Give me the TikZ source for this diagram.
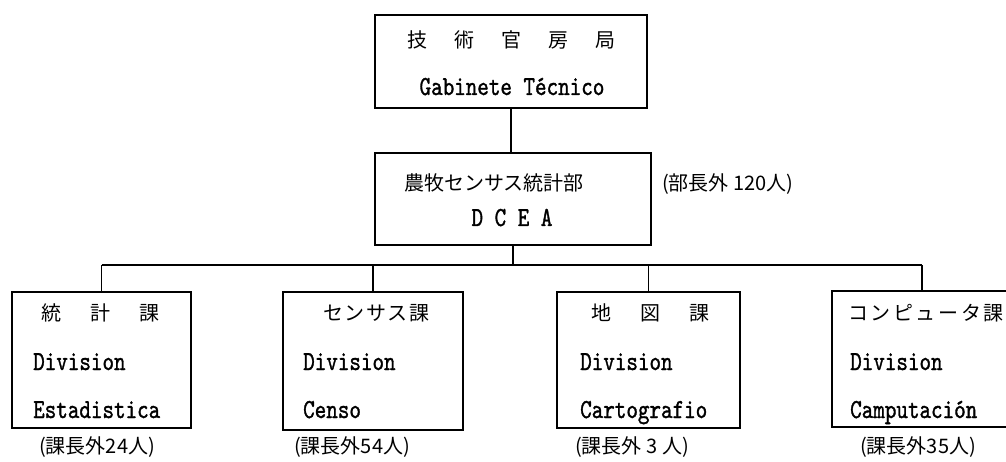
\documentclass[tikz,border=0pt]{standalone}
\usepackage{fontspec}
\newfontfamily\jp{Noto Sans CJK JP}
\newfontfamily\lat[FakeStretch=0.8,FakeBold=1.2]{lmmono10-regular.otf}
\tikzset{
  box/.style={draw, line width=1.3pt, inner sep=0pt},
  jt/.style={font=\jp\fontsize{20}{24}\selectfont, inner sep=0pt},
  lt/.style={font=\lat\fontsize{27.5}{30}\selectfont, inner sep=0pt},
  lbl/.style={font=\jp\fontsize{20}{24}\selectfont, inner sep=0pt},
  link/.style={line width=1.3pt}
}
\begin{document}
\begin{tikzpicture}[x=1pt,y=-1pt]
\useasboundingbox (0,0) rectangle (1006,462);
\clip (0,0) rectangle (1006,462);
% top
\node[box, minimum width=272pt, minimum height=93pt] (T) at (511,61.5) {};
\node[jt, anchor=base] (t1) at (511,48) {技\hspace{27pt}術\hspace{27pt}官\hspace{27pt}房\hspace{27pt}局};
\node[lt, anchor=base] (t2) at (512,95) {Gabinete Técnico};
% middle
\node[box, minimum width=276pt, minimum height=92pt] (M) at (513,199) {};
\node[jt, anchor=base] (m1) at (494,191) {農牧センサス統計部};
\node[lt, anchor=base] (m2) at (512,226) {D C E A};
\node[lbl, anchor=base west] (m3) at (662,191) {(部長外 120人)};
% divisions
\node[box, minimum width=179pt, minimum height=136pt] (B1) at (101.5,360) {};
\node[jt, anchor=base] (b1t) at (100,320) {統\hspace{29pt}計\hspace{29pt}課};
\node[lt, anchor=base west] (b1a) at (33,370) {Division};
\node[lt, anchor=base west] (b1b) at (33,418) {Estadistica};
\node[lbl, anchor=base] (b1l) at (97,453) {(課長外24人)};

\node[box, minimum width=180pt, minimum height=138pt] (B2) at (373,361) {};
\node[jt, anchor=base] (b2t) at (376,320) {\addfontfeatures{LetterSpace=8}センサス課};
\node[lt, anchor=base west] (b2a) at (303,370) {Division};
\node[lt, anchor=base west] (b2b) at (303,418) {Censo};
\node[lbl, anchor=base] (b2l) at (352,453) {(課長外54人)};

\node[box, minimum width=183pt, minimum height=136pt] (B3) at (648.5,360) {};
\node[jt, anchor=base] (b3t) at (650,320) {地\hspace{29pt}図\hspace{29pt}課};
\node[lt, anchor=base west] (b3a) at (580,370) {Division};
\node[lt, anchor=base west] (b3b) at (580,418) {Cartografio};
\node[lbl, anchor=base] (b3l) at (632,453) {(課長外 3 人)};

\node[box, minimum width=180pt, minimum height=136pt] (B4) at (922,359) {};
\node[jt, anchor=base west] (b4t) at (848,320) {\addfontfeatures{LetterSpace=13}コンピュータ課};
\node[lt, anchor=base west] (b4a) at (850,370) {Division};
\node[lt, anchor=base west] (b4b) at (850,418) {Camputación};
\node[lbl, anchor=base] (b4l) at (918,453) {(課長外35人)};
% connectors
\coordinate (bus) at (512,265);
\draw[link] (T.south) -- (T.south |- M.north);
\draw[link] (M.south) -- (M.south |- bus);
\draw[link] (B1.north |- bus) -- (B4.north |- bus);
\foreach \b in {B1,B2,B3,B4} \draw[link] (\b.north) -- (\b.north |- bus);
\end{tikzpicture}
\end{document}
